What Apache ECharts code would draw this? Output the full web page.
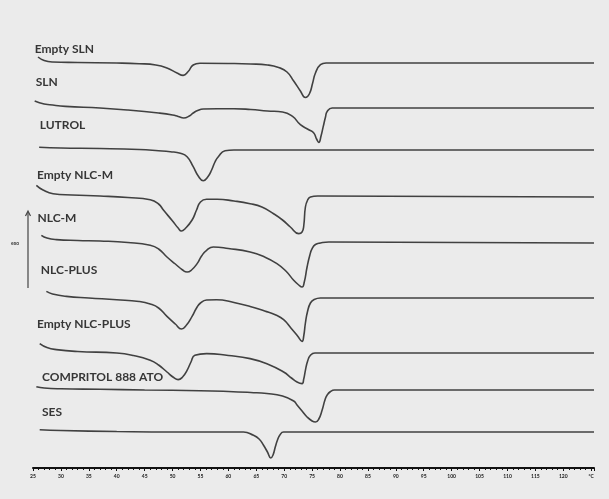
<!DOCTYPE html>
<html>
<head>
<meta charset="utf-8">
<script src="https://cdn.jsdelivr.net/npm/echarts@6/dist/echarts.min.js"></script>
<style>
html,body{margin:0;padding:0;background:#ebebeb;}
#c{width:609px;height:499px;}
</style>
</head>
<body>
<div id="c"></div>
<script>
// ---- data: DSC thermograms, [temperature °C, heat-flow deviation (a.u.)] ----
const curveNames = ['Empty SLN','SLN','LUTROL','Empty NLC-M','NLC-M','NLC-PLUS','Empty NLC-PLUS','COMPRITOL 888 ATO','SES'];
const curveOffsets = [405, 360, 318, 272, 226, 170, 115, 78, 36];
const xTicks = [25,30,35,40,45,50,55,60,65,70,75,80,85,90,95,100,105,110,115,120];
const xUnit = '°C';

const emptySLN = [[25.9,6],[27,2.5],[28.5,1],[33,0.5],[40,0],[44,-0.7],[47,-2],[49,-5],[50.8,-10],[51.9,-12.4],[52.8,-8.5],[53.7,-2],[54.9,-0.3],[60,-0.5],[64,-1],[67,-2],[69,-4.5],[70.5,-9],[71.7,-18],[72.9,-28],[73.8,-34.5],[74.5,-31],[75.1,-20],[75.6,-10],[76.5,-1.7],[77.5,0],[125.5,0]];
const sln = [[25.3,7],[27,4],[28,3.3],[30.8,1.6],[37,0],[42,-2],[47.5,-5],[50,-7],[51,-8.5],[52,-10],[53,-8],[53.7,-5],[54.5,-2.5],[55.5,-1],[58,-0.7],[61,-0.7],[64,-1.5],[67,-3],[69.7,-4],[71.5,-8.4],[72.9,-16.7],[74.4,-21.7],[75.3,-25],[75.8,-31],[76.2,-34.4],[76.6,-28],[77,-18.4],[77.4,-9],[77.7,-3.4],[78.6,0],[125.5,0]];
const lutrol = [[26.1,2.7],[30,2],[37,1.5],[44,0.5],[47.5,-0.7],[49.6,-1.7],[51.4,-3.3],[52.6,-6.7],[53.7,-16.7],[54.6,-26],[55.5,-30.7],[56.3,-27],[57,-20],[57.6,-12],[58.2,-6.7],[59.4,-0.7],[61,0],[125.5,0]];
const emptyNLCM = [[25.6,10.7],[26.8,6],[28.6,2.3],[32,1],[37,0],[42,-1.5],[46,-3.7],[47.5,-8],[48.4,-14.3],[50,-25],[51,-32],[51.6,-35],[52.2,-33],[53.5,-24],[54.3,-14],[55,-6],[56.1,-3.3],[58,-3.3],[61,-5],[63.9,-7.7],[66,-11],[68.1,-17.7],[69.7,-24],[71.1,-31],[72.6,-37.6],[73.2,-36],[73.5,-30],[73.8,-11],[74.2,-4],[74.7,-1],[76,0],[125.5,-1]];
const nlcM = [[26.5,6.7],[27.5,4],[29.2,2.4],[33,1.5],[37,1],[42,-0.5],[46,-3.3],[47.5,-7],[49,-15],[50.5,-22],[51.8,-28],[52.6,-30],[53.4,-28],[54.4,-21.6],[55.2,-14],[56.1,-8.3],[57.3,-5],[60,-6.5],[63.9,-10],[66.5,-15],[68.7,-21.6],[70.3,-29],[71.7,-38.3],[72.6,-43],[73.2,-45],[73.6,-40],[74.1,-25],[74.6,-13],[75,-6.6],[75.6,-2.5],[76.5,-1],[78,0],[125.5,-1]];
const nlcPlus = [[27.4,6.6],[28.5,4],[31,1.6],[35,0],[40,-1.7],[44,-3.5],[46,-6],[47.5,-10],[49,-18.4],[50.5,-26],[51.6,-31],[52.5,-27],[53.5,-18.4],[54.3,-10],[55,-5],[56.1,-2],[57.9,-1.7],[61,-4.5],[63.9,-8.4],[66.5,-13],[68.5,-17],[69.9,-21.7],[71.2,-30],[72.4,-38],[73.2,-43.4],[73.5,-38],[73.8,-25],[74.2,-13],[74.7,-5],[75.3,-1.7],[76.5,0],[125.5,0]];
const emptyNLCPlus = [[26.2,9.4],[27.5,5.5],[29.2,3.4],[33,1.5],[40,0],[43,-2.5],[46,-7.3],[47.5,-12],[49,-19],[50.2,-24.5],[51,-26.6],[51.8,-24],[52.6,-17.3],[53.3,-9],[54,-2.3],[56.1,-0.6],[60,-2.5],[63.9,-5.6],[67,-11],[69.9,-19],[71.3,-25],[72.3,-29],[73.2,-30.6],[73.5,-26],[73.8,-17.3],[74.2,-8],[74.7,-2.3],[75.5,0],[125.5,0]];
const compritol = [[25.6,3.3],[27,2],[30,1.2],[37,0.7],[45,0],[54.9,-0.7],[60,-1.5],[64,-2.5],[66.9,-3.5],[69.7,-6],[71.7,-11],[72.3,-15],[73.2,-21],[74.1,-27],[75,-31],[75.6,-32],[76.2,-29],[76.8,-20],[77.3,-10],[77.7,-5],[78.3,-1.5],[79,0],[125.5,0]];
const ses = [[26.2,2.3],[30,1.5],[40,0.5],[50,0],[62.7,0],[64.5,-3.3],[65.5,-7],[66.3,-13.3],[67,-20],[67.6,-26],[68,-23],[68.4,-15],[68.8,-8],[69.2,-3.3],[69.9,0],[125.5,0]];

const curves = [emptySLN, sln, lutrol, emptyNLCM, nlcM, nlcPlus, emptyNLCPlus, compritol, ses];
// label anchors: [temperature, height above the curve's baseline]
const labelAnchors = [[25.3,14],[25.5,26],[26.2,25],[25.7,21],[25.8,24],[26.4,28],[25.7,29],[26.6,13],[26.6,20]];

const chart = echarts.init(document.getElementById('c'), null, {renderer:'canvas'});

const series = curves.map((pts, i) => ({
  type: 'line',
  name: curveNames[i],
  data: pts.map(p => [p[0], curveOffsets[i] + p[1]]),
  showSymbol: false,
  smooth: 0.5,
  silent: true,
  lineStyle: {color: '#414141', width: 1.6},
  markPoint: {
    symbol: 'circle',
    symbolSize: 0,
    silent: true,
    data: [{
      coord: [labelAnchors[i][0], curveOffsets[i] + labelAnchors[i][1]],
      label: {
        show: true, position: 'right', distance: 0,
        formatter: curveNames[i],
        color: '#363636', fontSize: 12, fontWeight: 'bold',
        fontFamily: 'Lato, "Open Sans", sans-serif'
      }
    }]
  }
}));

chart.setOption({
  backgroundColor: '#ebebeb',
  animation: false,
  grid: {left: 33, right: 15, top: 0, bottom: 31},
  xAxis: {
    type: 'value', min: 25, max: 125.5, interval: 5,
    splitLine: {show: false},
    axisLine: {show: true, lineStyle: {color: '#111', width: 2}},
    axisTick: {show: true, length: 3, lineStyle: {color: '#111', width: 1}},
    minorTick: {show: true, splitNumber: 5, length: 2, lineStyle: {color: '#111', width: 1}},
    axisLabel: {
      margin: 6, fontSize: 5, fontWeight: 'bold', color: '#222',
      fontFamily: 'Lato, sans-serif',
      formatter: v => (v === 125 ? xUnit : (xTicks.indexOf(v) >= 0 ? String(v) : ''))
    }
  },
  yAxis: {type: 'value', min: 0, max: 468, show: false},
  graphic: [
    {type: 'line', shape: {x1: 28, y1: 288, x2: 28, y2: 212}, style: {stroke: '#444', lineWidth: 1.2}},
    {type: 'polyline', shape: {points: [[25.5, 216], [28, 211], [30.5, 216]]}, style: {stroke: '#444', lineWidth: 1.2, fill: null}},
    {type: 'text', x: 15, y: 243, style: {text: 'exo', fontSize: 5, fontWeight: 'bold', fill: '#333', align: 'center', verticalAlign: 'middle', fontFamily: 'Lato, sans-serif'}}
  ],
  series: series
});
</script>
</body>
</html>
